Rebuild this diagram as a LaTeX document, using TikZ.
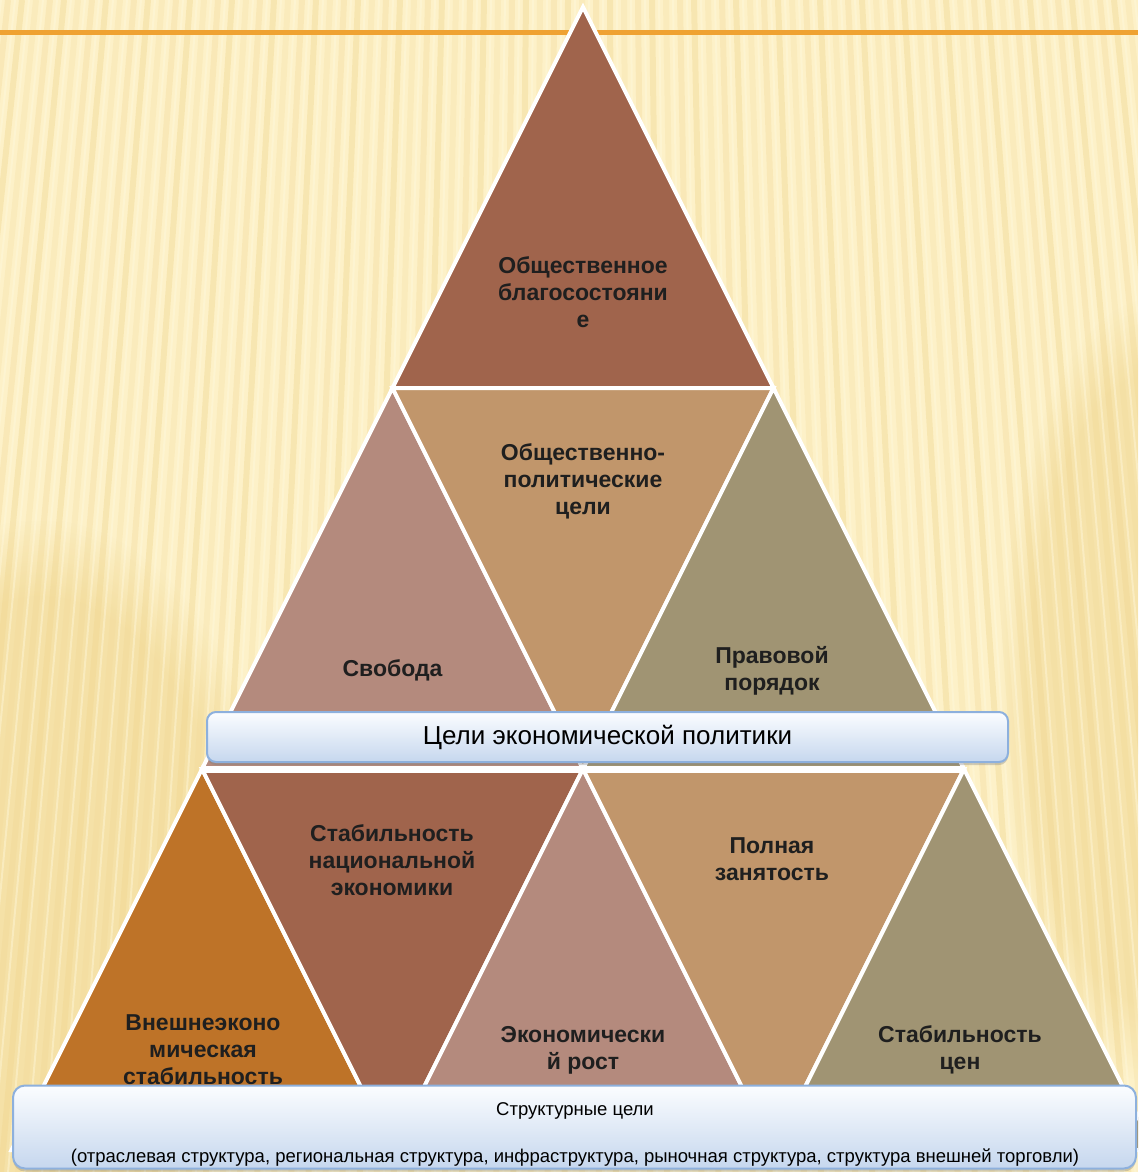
\documentclass[tikz,border=0pt]{standalone}
\usepackage{fontspec}
\setmainfont{Liberation Sans}
\usetikzlibrary{shadows,fadings}
\definecolor{bgc}{HTML}{FDF1C8}
\definecolor{stripe}{HTML}{F0D690}
\definecolor{hilite}{HTML}{FFF8DC}
\definecolor{goldish}{HTML}{EDCF80}
\definecolor{orangeline}{HTML}{EFA232}
\definecolor{cBrown}{HTML}{A0644C}
\definecolor{cPink}{HTML}{B48A7D}
\definecolor{cTan}{HTML}{C1966B}
\definecolor{cOlive}{HTML}{A09473}
\definecolor{cOrange}{HTML}{BE7328}
\definecolor{barTop}{HTML}{FBFDFF}
\definecolor{barBot}{HTML}{C6D7EE}
\definecolor{barEdge}{HTML}{8DB0DD}
\begin{document}
\begin{tikzpicture}[x=1pt,y=-1pt,
  tri/.style={draw=white,line width=4pt,line join=miter},
  lbl/.style={font=\bfseries\fontsize{23}{27}\selectfont,align=center,text=black!88,inner sep=0pt},
  bar/.style={draw=barEdge,line width=2pt,top color=barTop,bottom color=barBot,
    drop shadow={shadow xshift=0pt,shadow yshift=-3pt,opacity=0.35}},
]
\useasboundingbox (0,0) rectangle (1138,1172);
\clip (0,0) rectangle (1138,1172);
% background
\fill[bgc] (0,0) rectangle (1138,1172);
\fill[goldish,fill opacity=0.45,path fading=circle with fuzzy edge 20 percent] (-200,520) rectangle (280,1300);
\fill[goldish,fill opacity=0.4,path fading=circle with fuzzy edge 20 percent] (1000,300) rectangle (1300,1080);
\foreach \i in {0,...,120}{
  \pgfmathsetmacro\xt{-300+\i*14}
  \pgfmathsetmacro\xb{\xt+(\xt-583)*0.22}
  \pgfmathsetmacro\op{0.2+0.1*mod(\i,3)}
  \draw[stripe,line width=6pt,opacity=\op] (\xt,0) -- (\xb,1172);
  \draw[hilite,line width=2pt,opacity=0.45] (\xt+7,0) -- (\xb+7,1172);
}
% orange rule
\draw[orangeline,line width=4.5pt] (0,32.5) -- (1138,32.5);
% lattice
\coordinate (A) at (583,7);
\coordinate (B1) at (392.5,388); \coordinate (B2) at (773.5,388);
\coordinate (C1) at (202,769); \coordinate (C2) at (583,769); \coordinate (C3) at (964,769);
\coordinate (D1) at (11.5,1150); \coordinate (D2) at (392.5,1150);
\coordinate (D3) at (773.5,1150); \coordinate (D4) at (1154.5,1150);
% row 1
\filldraw[tri,fill=cBrown] (A) -- (B1) -- (B2) -- cycle;
% row 2
\filldraw[tri,fill=cPink] (B1) -- (C1) -- (C2) -- cycle;
\filldraw[tri,fill=cTan] (B1) -- (B2) -- (C2) -- cycle;
\filldraw[tri,fill=cOlive] (B2) -- (C2) -- (C3) -- cycle;
% row 3
\filldraw[tri,fill=cOrange] (C1) -- (D1) -- (D2) -- cycle;
\filldraw[tri,fill=cBrown] (C1) -- (C2) -- (D2) -- cycle;
\filldraw[tri,fill=cPink] (C2) -- (D2) -- (D3) -- cycle;
\filldraw[tri,fill=cTan] (C2) -- (C3) -- (D3) -- cycle;
\filldraw[tri,fill=cOlive] (C3) -- (D3) -- (D4) -- cycle;
\draw[white,line width=7pt] (C1) -- (C3);
% labels
\node[lbl] (t1) at (583,292) {Общественное\\благосостояни\\е};
\node[lbl] (t2) at (392.5,670) {Свобода};
\node[lbl] (t3) at (583,481) {Общественно-\\политические\\цели};
\node[lbl] (t4) at (772,671) {Правовой\\порядок};
\node[lbl] (t5) at (392,860) {Стабильность\\национальной\\экономики};
\node[lbl] (t6) at (203,1050) {Внешнеэконо\\мическая\\стабильность};
\node[lbl] (t7) at (583,1050) {Экономически\\й рост};
\node[lbl] (t8) at (772,859) {Полная\\занятость};
\node[lbl] (t9) at (960,1050) {Стабильность\\цен};
% bars
\node[bar,rounded corners=9pt,minimum width=801pt,minimum height=50pt,inner sep=0pt,
  font=\fontsize{26}{31}\selectfont] (bar1) at (607.5,737) {Цели экономической политики};
\node[bar,rounded corners=12pt,minimum width=1123pt,minimum height=83pt,inner sep=0pt] (bar2) at (574.5,1127) {};
\node[font=\fontsize{18.5}{23.5}\selectfont,align=center,inner sep=0pt] (bt) at (575,1134)
  {Структурные цели\\ \\(отраслевая структура, региональная структура, инфраструктура, рыночная структура, структура внешней торговли)};
\end{tikzpicture}
\end{document}
